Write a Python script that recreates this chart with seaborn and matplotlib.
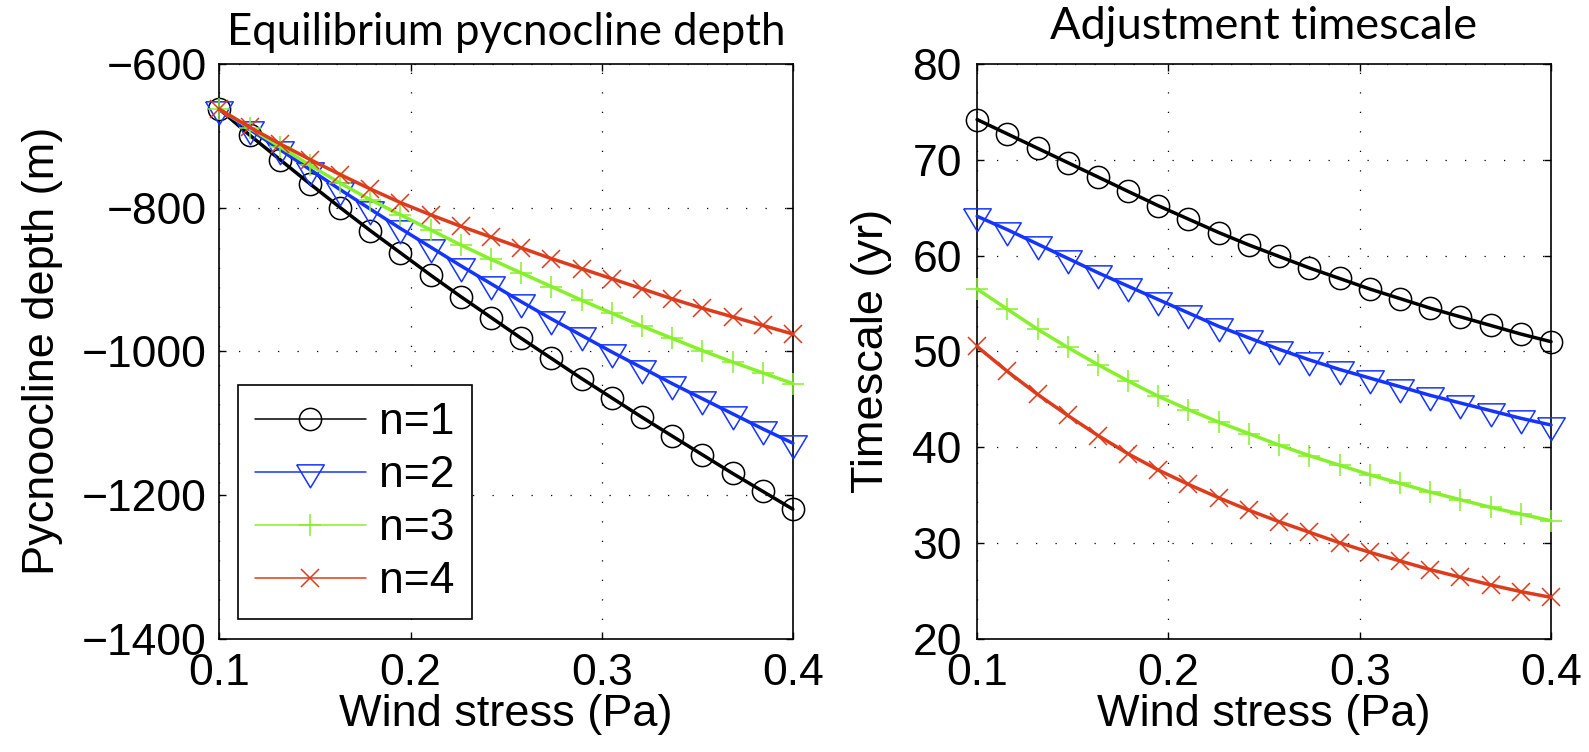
import numpy as np
import pandas as pd
import matplotlib
matplotlib.use("Agg")
import matplotlib.pyplot as plt
from matplotlib.ticker import FixedLocator
import seaborn as sns

# Wind stress values (Pa)
wind_stress = [0.1, 0.1158, 0.1316, 0.1474, 0.1632, 0.1789, 0.1947, 0.2105,
               0.2263, 0.2421, 0.2579, 0.2737, 0.2895, 0.3053, 0.3211,
               0.3368, 0.3526, 0.3684, 0.3842, 0.4]

# Equilibrium pycnocline depth (m)
depth_n1 = [-663, -699, -733, -767, -800, -832, -863, -894, -924, -953,
            -982, -1010, -1038, -1065, -1092, -1118, -1144, -1170, -1195, -1220]
depth_n2 = [-663, -691, -719, -747, -775, -802, -829, -855, -881, -906,
            -931, -955, -978, -1001, -1023, -1045, -1066, -1087, -1108, -1128]
depth_n3 = [-663, -689, -715, -741, -766, -789, -810, -831, -852, -872,
            -891, -910, -929, -947, -965, -982, -999, -1015, -1030, -1045]
depth_n4 = [-663, -688, -711, -733, -754, -774, -793, -810, -826, -841,
            -856, -871, -885, -899, -913, -927, -940, -952, -964, -976]

# Adjustment timescale (yr)
tau_n1 = [74.2, 72.7, 71.2, 69.7, 68.2, 66.7, 65.2, 63.8, 62.4, 61.1,
          59.9, 58.7, 57.6, 56.5, 55.5, 54.5, 53.6, 52.7, 51.8, 51.0]
tau_n2 = [64.1, 62.7, 61.2, 59.7, 58.2, 56.8, 55.4, 54.0, 52.6, 51.4,
          50.2, 49.1, 48.1, 47.2, 46.3, 45.4, 44.6, 43.8, 43.0, 42.3]
tau_n3 = [56.5, 54.4, 52.3, 50.4, 48.6, 46.9, 45.3, 43.9, 42.6, 41.4,
          40.2, 39.1, 38.1, 37.1, 36.2, 35.3, 34.5, 33.7, 33.0, 32.3]
tau_n4 = [50.5, 47.9, 45.5, 43.3, 41.2, 39.3, 37.6, 36.1, 34.7, 33.4,
          32.2, 31.1, 30.0, 29.0, 28.1, 27.2, 26.4, 25.6, 24.9, 24.3]

labels = ["n=1", "n=2", "n=3", "n=4"]
x_ticks = [0.1, 0.2, 0.3, 0.4]
depth_ticks = [-1400, -1200, -1000, -800, -600]
tau_ticks = [20, 30, 40, 50, 60, 70, 80]

sns.set_style("white")
plt.rcParams["font.family"] = ["Liberation Sans", "DejaVu Sans"]
plt.rcParams["axes.unicode_minus"] = True
for key in ("text.color", "axes.labelcolor", "xtick.color", "ytick.color",
            "axes.edgecolor"):
    plt.rcParams[key] = "black"

# downward triangle centred on its centroid
tri_down = [(-1.2, 0.667), (1.2, 0.667), (0.0, -1.333), (-1.2, 0.667)]

colors = ["#000000", "#1535ff", "#86f02a", "#dc3c1c"]
styles = [
    dict(marker="o", markersize=16, markeredgewidth=1.1, markerfacecolor="none"),
    dict(marker=tri_down, markersize=22, markeredgewidth=1.1, markerfacecolor="none"),
    dict(marker="+", markersize=16.5, markeredgewidth=1.1),
    dict(marker="x", markersize=12.5, markeredgewidth=1.1),
]

fig = plt.figure(figsize=(15.89, 7.52), dpi=100)
ax_d = fig.add_axes([0.1381, 0.1509, 0.3609, 0.7640])
ax_t = fig.add_axes([0.6149, 0.1509, 0.3612, 0.7640])

TICK_FS = 32
LABEL_FS = 32.5


def draw_panel(ax, series, yticks, ylim, ypad):
    for vals, lab, col, st in zip(series, labels, colors, styles):
        sns.lineplot(x=wind_stress, y=vals, ax=ax, color=col, linewidth=2.5,
                     label=lab, markeredgecolor=col, clip_on=False,
                     zorder=3, **st)
    ax.set_xlim(0.1, 0.4)
    ax.set_ylim(*ylim)
    ax.xaxis.set_major_locator(FixedLocator(x_ticks))
    ax.set_xticklabels([f"{v:.1f}" for v in x_ticks])
    ax.yaxis.set_major_locator(FixedLocator(yticks))
    ax.grid(True, color="black", linestyle=(0, (1, 14.6)), linewidth=0.9)
    ax.set_axisbelow(True)
    for sp in ax.spines.values():
        sp.set_visible(True)
        sp.set_color("black")
        sp.set_linewidth(1.2)
    ax.tick_params(axis="both", direction="in", length=5, width=1,
                   top=True, right=True, bottom=True, left=True,
                   labelsize=TICK_FS, colors="black")
    ax.tick_params(axis="x", pad=10.5)
    ax.tick_params(axis="y", pad=ypad)
    ax.set_xlabel("Wind stress (Pa)", fontsize=LABEL_FS, labelpad=0)


draw_panel(ax_d, [depth_n1, depth_n2, depth_n3, depth_n4], depth_ticks,
           (-1400, -600), ypad=9)
draw_panel(ax_t, [tau_n1, tau_n2, tau_n3, tau_n4], tau_ticks, (20, 80), ypad=11)

ax_d.set_ylabel("Pycnoocline depth (m)", fontsize=LABEL_FS)
ax_t.set_ylabel("Timescale (yr)", fontsize=LABEL_FS)
ax_d.yaxis.set_label_coords(-0.273, 0.5)
ax_t.yaxis.set_label_coords(-0.148, 0.5)

title_font = dict(family=["Lato", "DejaVu Sans"], color="black")
ax_d.set_title("Equilibrium pycnocline depth", pad=14, fontsize=31.5, **title_font)
ax_t.set_title("Adjustment timescale", pad=18, fontsize=32.5, **title_font)

ax_t.get_legend().remove()
leg = ax_d.legend(loc="lower left", bbox_to_anchor=(0.032, 0.034),
                  borderaxespad=0, fontsize=TICK_FS, handlelength=2.5,
                  handletextpad=0.3, labelspacing=0.27, borderpad=0.38,
                  fancybox=False, edgecolor="black", framealpha=1)
leg.get_frame().set_linewidth(1.2)
for h in leg.get_lines():
    h.set_linewidth(1.1)

fig.savefig("out.png", dpi=100)
